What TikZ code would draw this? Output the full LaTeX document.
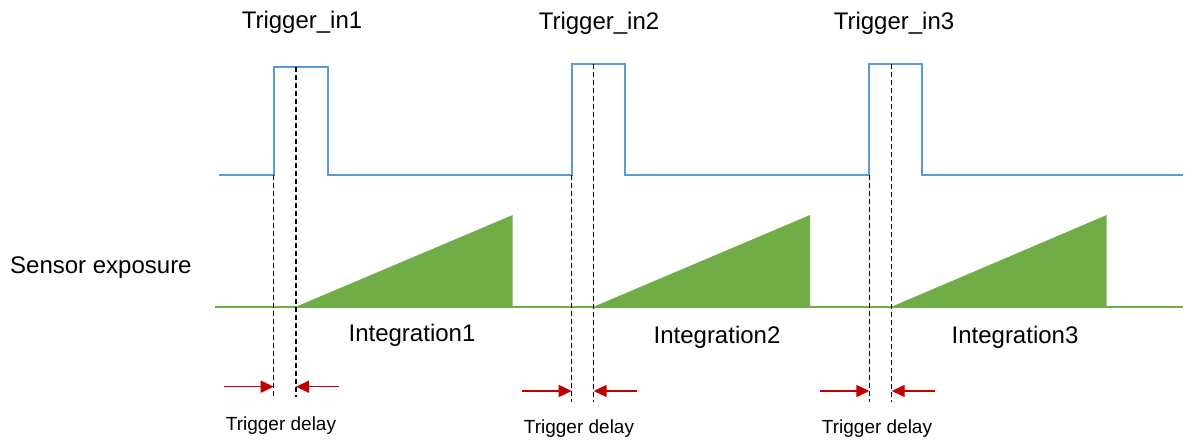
\documentclass[tikz,border=0pt]{standalone}
\usepackage{fontspec}
\setmainfont{Liberation Sans}
\usetikzlibrary{arrows.meta}
\definecolor{sigblue}{RGB}{91,155,213}
\definecolor{siggreen}{RGB}{112,173,71}
\definecolor{arrred}{RGB}{192,0,0}
\begin{document}
\begin{tikzpicture}[x=1pt,y=-1pt,
  bigtxt/.style={font=\fontsize{24}{28}\selectfont, inner sep=0pt, anchor=base},
  smalltxt/.style={font=\fontsize{19}{22}\selectfont, inner sep=0pt, anchor=base},
  trig/.style={draw=sigblue, line width=2pt},
  sens/.style={draw=siggreen, line width=2pt},
  ramp/.style={fill=siggreen},
  guide/.style={draw=black, line width=1.4pt, dash pattern=on 5pt off 3pt},
  delayarrow/.style={draw=arrred, line width=1.4pt, -{Triangle[length=13pt,width=12pt]}}]
\useasboundingbox (0,0) rectangle (1186,441);

% trigger signal
\draw[trig] (219,175) -- (273.7,175) -- (273.7,67.3) -- (328,67.3) -- (328,175)
  -- (571.7,175) -- (571.7,64.3) -- (625.3,64.3) -- (625.3,175)
  -- (869.3,175) -- (869.3,64.3) -- (922.3,64.3) -- (922.3,175) -- (1183,175);

% sensor exposure ramps
\fill[ramp] (296,306.7) -- (512.7,215) -- (512.7,306.7) -- cycle;
\fill[ramp] (593.7,306.7) -- (810,215) -- (810,306.7) -- cycle;
\fill[ramp] (891.7,306.7) -- (1106.7,215) -- (1106.7,306.7) -- cycle;
\draw[sens] (215,306.7) -- (1183,306.7);

% guide lines
\coordinate (g1a) at (273.7,175);   \coordinate (g1ab) at (273.7,397);
\coordinate (g1b) at (296,67.3);    \coordinate (g1bb) at (296,397);
\coordinate (g2a) at (571.7,175);   \coordinate (g2ab) at (571.7,401.7);
\coordinate (g2b) at (593.7,64.3);  \coordinate (g2bb) at (593.7,401.7);
\coordinate (g3a) at (869.3,175);   \coordinate (g3ab) at (869.3,401.7);
\coordinate (g3b) at (891.7,64.3);  \coordinate (g3bb) at (891.7,401.7);
\draw[guide] (g1a) -- (g1ab);
\draw[guide] (g1b) -- (g1bb);
\draw[guide] (g2a) -- (g2ab);
\draw[guide] (g2b) -- (g2bb);
\draw[guide] (g3a) -- (g3ab);
\draw[guide] (g3b) -- (g3bb);

% delay arrows
\coordinate (a1l) at (224,386.7); \coordinate (a1lt) at (273.7,386.7);
\coordinate (a1r) at (339,386.7); \coordinate (a1rt) at (296,386.7);
\coordinate (a2l) at (522,391);   \coordinate (a2lt) at (571.7,391);
\coordinate (a2r) at (636.7,391); \coordinate (a2rt) at (593.7,391);
\coordinate (a3l) at (820,391);   \coordinate (a3lt) at (869.3,391);
\coordinate (a3r) at (935,391);   \coordinate (a3rt) at (891.7,391);
\draw[delayarrow] (a1l) -- (a1lt);
\draw[delayarrow] (a1r) -- (a1rt);
\draw[delayarrow] (a2l) -- (a2lt);
\draw[delayarrow] (a2r) -- (a2rt);
\draw[delayarrow] (a3l) -- (a3lt);
\draw[delayarrow] (a3r) -- (a3rt);

% labels
\node[bigtxt] (t1) at (302,28.3) {Trigger\_in1};
\node[bigtxt] (t2) at (599,30) {Trigger\_in2};
\node[bigtxt] (t3) at (894,30) {Trigger\_in3};
\node[bigtxt] (i1) at (412,341.7) {Integration1};
\node[bigtxt] (i2) at (717,343.3) {Integration2};
\node[bigtxt] (i3) at (1015,343.3) {Integration3};
\node[smalltxt] (d1) at (281,430) {Trigger delay};
\node[smalltxt] (d2) at (579,433.3) {Trigger delay};
\node[smalltxt] (d3) at (877,433.3) {Trigger delay};
\node[bigtxt, anchor=base west] (se) at (10,273.3) {Sensor exposure};
\end{tikzpicture}
\end{document}
